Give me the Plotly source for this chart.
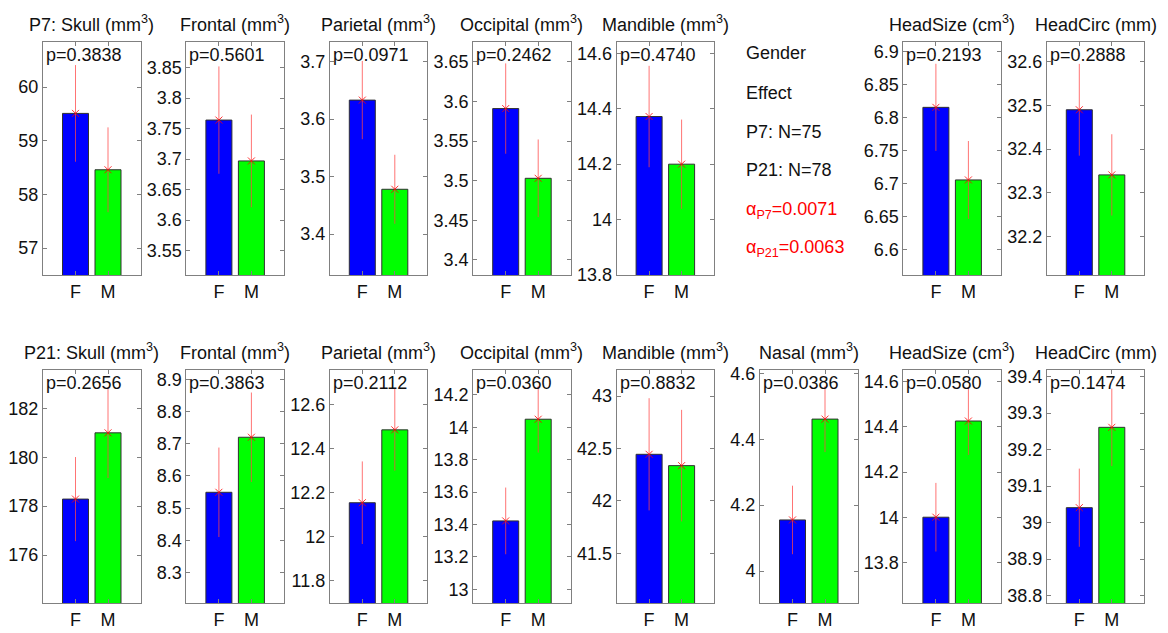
import plotly.graph_objects as go

# ---------------- data ----------------
groups = ["F", "M"]

top_titles = ["P7: Skull (mm<sup>3</sup>)", "Frontal (mm<sup>3</sup>)", "Parietal (mm<sup>3</sup>)",
              "Occipital (mm<sup>3</sup>)", "Mandible (mm<sup>3</sup>)", None,
              "HeadSize (cm<sup>3</sup>)", "HeadCirc (mm)"]
top_p = ["p=0.3838", "p=0.5601", "p=0.0971", "p=0.2462", "p=0.4740", None, "p=0.2193", "p=0.2888"]
top_F = [59.51, 3.764, 3.633, 3.591, 14.372, None, 6.816, 32.490]
top_M = [58.46, 3.697, 3.478, 3.503, 14.200, None, 6.706, 32.341]
top_F_err = [0.90, 0.088, 0.068, 0.057, 0.183, None, 0.066, 0.105]
top_M_err = [0.79, 0.076, 0.060, 0.049, 0.161, None, 0.059, 0.093]
top_ylim = [[56.5, 60.84], [3.51, 3.892], [3.329, 3.734], [3.381, 3.675], [13.8, 14.641], None,
            [6.562, 6.915], [32.112, 32.645]]
top_ticks = [[57, 58, 59, 60], [3.55, 3.6, 3.65, 3.7, 3.75, 3.8, 3.85], [3.4, 3.5, 3.6, 3.7],
             [3.4, 3.45, 3.5, 3.55, 3.6, 3.65], [13.8, 14, 14.2, 14.4, 14.6], None,
             [6.6, 6.65, 6.7, 6.75, 6.8, 6.85, 6.9], [32.2, 32.3, 32.4, 32.5, 32.6]]

bot_titles = ["P21: Skull (mm<sup>3</sup>)", "Frontal (mm<sup>3</sup>)", "Parietal (mm<sup>3</sup>)",
              "Occipital (mm<sup>3</sup>)", "Mandible (mm<sup>3</sup>)", "Nasal (mm<sup>3</sup>)",
              "HeadSize (cm<sup>3</sup>)", "HeadCirc (mm)"]
bot_p = ["p=0.2656", "p=0.3863", "p=0.2112", "p=0.0360", "p=0.8832", "p=0.0386", "p=0.0580", "p=0.1474"]
bot_F = [178.29, 8.549, 12.154, 13.422, 42.444, 4.155, 14.000, 39.041]
bot_M = [181.00, 8.720, 12.484, 14.050, 42.336, 4.461, 14.426, 39.261]
bot_F_err = [1.72, 0.139, 0.187, 0.206, 0.535, 0.104, 0.152, 0.107]
bot_M_err = [1.85, 0.139, 0.185, 0.206, 0.532, 0.100, 0.150, 0.106]
bot_ylim = [[174.04, 183.57], [8.205, 8.929], [11.70, 12.755], [12.915, 14.354], [41.026, 43.248],
            [3.903, 4.61], [13.62, 14.652], [38.78, 39.418]]
bot_ticks = [[176, 178, 180, 182], [8.3, 8.4, 8.5, 8.6, 8.7, 8.8, 8.9], [11.8, 12, 12.2, 12.4, 12.6],
             [13, 13.2, 13.4, 13.6, 13.8, 14, 14.2], [41.5, 42, 42.5, 43], [4, 4.2, 4.4, 4.6],
             [13.8, 14, 14.2, 14.4, 14.6], [38.8, 38.9, 39, 39.1, 39.2, 39.3, 39.4]]

info_lines = ["Gender", "Effect", "P7: N=75", "P21: N=78"]
alpha_lines = ["α<sub>P7</sub>=0.0071", "α<sub>P21</sub>=0.0063"]

# ---------------- layout helpers ----------------
W, H = 1168, 633
FONT = "Liberation Sans, Arial, Helvetica, sans-serif"
FS = 18
AXC = "#808080"
TXT = "#111111"
left0, pitch, pw = 43.0, 143.4, 97.5
rows = [(42.0, 275.0), (370.0, 603.0)]

fig = go.Figure()
layout = dict(
    width=W, height=H, margin=dict(l=0, r=0, t=0, b=0, autoexpand=False),
    paper_bgcolor="white", plot_bgcolor="white", showlegend=False,
    font=dict(family=FONT, size=FS, color=TXT),
)
annotations = []
n = 0

def add_panel(r, c, title, ptxt, fv, mv, fe, me, ylim, ticks):
    global n
    n += 1
    sx = "" if n == 1 else str(n)
    x0 = left0 + pitch * c
    x1 = x0 + pw
    y0, y1 = rows[r]
    xa = dict(domain=[x0 / W, x1 / W], range=[0, 3], tickvals=[1, 2], ticktext=groups,
              ticks="inside", ticklen=4, tickcolor=AXC, showline=True, linecolor=AXC, linewidth=1,
              mirror="ticks", showgrid=False, zeroline=False, anchor="y" + sx, automargin=False,
              tickfont=dict(family=FONT, size=FS, color=TXT), fixedrange=True)
    ya = dict(domain=[1 - y1 / H, 1 - y0 / H], range=ylim, tickvals=ticks,
              ticks="inside", ticklen=4, tickcolor=AXC, showline=True, linecolor=AXC, linewidth=1,
              mirror="ticks", showgrid=False, zeroline=False, anchor="x" + sx, automargin=False,
              tickfont=dict(family=FONT, size=FS, color=TXT), fixedrange=True)
    layout["xaxis" + sx] = xa
    layout["yaxis" + sx] = ya
    fig.add_trace(go.Bar(x=[1, 2], y=[fv, mv], width=0.8, xaxis="x" + sx, yaxis="y" + sx,
                         textposition="none", hoverinfo="skip",
                         marker=dict(color=["#0000ff", "#00ff00"], line=dict(color="#303030", width=1))))
    fig.add_trace(go.Scatter(x=[1, 2], y=[fv, mv], xaxis="x" + sx, yaxis="y" + sx, mode="markers",
                             hoverinfo="skip",
                             marker=dict(symbol="x-thin", size=7, color="red",
                                         line=dict(color="rgba(255,0,0,0.8)", width=1)),
                             error_y=dict(type="data", array=[fe, me], symmetric=True,
                                          color="rgba(255,70,70,0.75)", thickness=1, width=0)))
    annotations.append(dict(text=ptxt, xref="paper", yref="paper",
                            x=(x0 + 1) / W, y=1 - (y0 + 1) / H, xanchor="left", yanchor="top",
                            showarrow=False, font=dict(family=FONT, size=FS, color=TXT)))
    annotations.append(dict(text=title, xref="paper", yref="paper",
                            x=(x0 + x1) / 2 / W, y=1 - (y0 - 5) / H, xanchor="center", yanchor="bottom",
                            showarrow=False, font=dict(family=FONT, size=FS, color=TXT)))

for c in range(8):
    if top_F[c] is not None:
        add_panel(0, c, top_titles[c], top_p[c], top_F[c], top_M[c], top_F_err[c], top_M_err[c],
                  top_ylim[c], top_ticks[c])
for c in range(8):
    add_panel(1, c, bot_titles[c], bot_p[c], bot_F[c], bot_M[c], bot_F_err[c], bot_M_err[c],
              bot_ylim[c], bot_ticks[c])

# info text in the empty top slot
info_y = [53, 93, 132, 170]
for t, yy in zip(info_lines, info_y):
    annotations.append(dict(text=t, xref="paper", yref="paper", x=744 / W, y=1 - yy / H,
                            xanchor="left", yanchor="middle", showarrow=False,
                            font=dict(family=FONT, size=FS, color=TXT)))
alpha_y = [210, 248]
for t, yy in zip(alpha_lines, alpha_y):
    annotations.append(dict(text=t, xref="paper", yref="paper", x=744 / W, y=1 - yy / H,
                            xanchor="left", yanchor="middle", showarrow=False,
                            font=dict(family=FONT, size=FS, color="#ff0000")))

layout["annotations"] = annotations
fig.update_layout(**layout)
fig.write_html("out.html", config={"displayModeBar": False},
               post_script="document.body.style.margin='0px';document.body.style.overflow='hidden';")
